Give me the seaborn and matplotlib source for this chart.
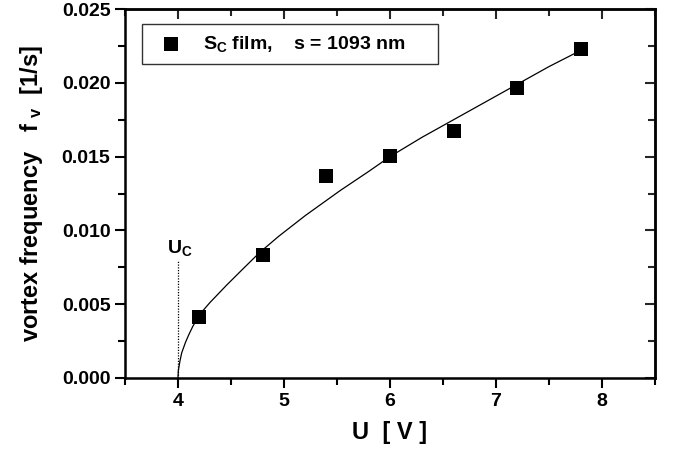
import matplotlib
matplotlib.use("Agg")
import matplotlib.pyplot as plt
import seaborn as sns
import pandas as pd

# measured points
u_meas = [4.2, 4.8, 5.4, 6.0, 6.6, 7.2, 7.8]
f_meas = [0.00415, 0.00835, 0.01371, 0.01504, 0.01676, 0.01963, 0.02227]

# fitted curve
u_fit = [4.0, 4.003, 4.02, 4.035, 4.07, 4.1, 4.14, 4.19, 4.24, 4.3, 4.38, 4.46,
         4.6, 4.77, 4.95, 5.2, 5.53, 5.8, 6.0, 6.3, 6.6, 6.9, 7.2, 7.5, 7.8]
f_fit = [0.0, 0.0005, 0.0012, 0.0017, 0.0024, 0.0029, 0.0035, 0.0041, 0.0046,
         0.0051, 0.0057, 0.0063, 0.0073, 0.0085, 0.0096, 0.0110, 0.0127, 0.0140,
         0.0150, 0.0163, 0.0175, 0.0187, 0.0199, 0.0211, 0.0222]

# critical voltage marker
u_c = [4.0, 4.0]
f_c = [0.0, 0.0079]

x_ticks = [4, 5, 6, 7, 8]
x_minor = [3.5, 4.5, 5.5, 6.5, 7.5, 8.5]
y_ticks = [0.000, 0.005, 0.010, 0.015, 0.020, 0.025]
y_minor = [0.0025, 0.0075, 0.0125, 0.0175, 0.0225]
y_tick_labels = ["0.000", "0.005", "0.010", "0.015", "0.020", "0.025"]

legend_label = r"S$_\mathbf{C}$ film,    s = 1093 nm     "

sns.set_style("ticks")
plt.rcParams["font.family"] = ["Liberation Sans", "DejaVu Sans"]
plt.rcParams["font.weight"] = "bold"
plt.rcParams["text.color"] = "black"
plt.rcParams["axes.labelcolor"] = "black"
plt.rcParams["mathtext.fontset"] = "custom"
plt.rcParams["mathtext.rm"] = "Liberation Sans:bold"
plt.rcParams["mathtext.bf"] = "Liberation Sans:bold"
plt.rcParams["mathtext.it"] = "Liberation Sans:bold"

fig = plt.figure(figsize=(6.73, 4.58), dpi=100)
ax = fig.add_axes([0.1857, 0.1747, 0.7876, 0.8056])

df_fit = pd.DataFrame({"U": u_fit, "f": f_fit})
df_meas = pd.DataFrame({"U": u_meas, "f": f_meas})

sns.lineplot(data=df_fit, x="U", y="f", ax=ax, color="black", linewidth=0.9,
             sort=False, estimator=None)
ax.plot(u_c, f_c, color="black", linestyle=(0, (1, 1.2)), linewidth=0.9)
sns.scatterplot(data=df_meas, x="U", y="f", ax=ax, marker="s", s=90,
                color="black", linewidth=0, label=legend_label, zorder=5)

ax.text(3.9, 0.0085, r"U$_\mathbf{C}$", fontsize=14, fontweight="bold")

ax.set_xlim(3.5, 8.5)
ax.set_ylim(0, 0.025)
ax.set_xticks(x_ticks)
ax.set_yticks(y_ticks)
ax.set_yticklabels(y_tick_labels)
ax.set_xticks(x_minor, minor=True)
ax.set_yticks(y_minor, minor=True)

for s in ax.spines.values():
    s.set_linewidth(1.8)
    s.set_color("black")

ax.tick_params(axis="both", which="both", direction="out", width=1.5,
               labelsize=14, colors="black")
ax.tick_params(axis="both", which="major", length=7)
ax.tick_params(axis="both", which="minor", length=5)
for lab in ax.get_xticklabels() + ax.get_yticklabels():
    lab.set_fontweight("bold")

# inward ticks on top/right
ax2 = ax.secondary_xaxis("top")
ax2.set_xticks(x_ticks)
ax2.set_xticks(x_minor, minor=True)
ax2.tick_params(which="both", direction="in", width=1.5, labelsize=0, labeltop=False)
ax2.tick_params(which="major", length=7)
ax2.tick_params(which="minor", length=5)
ax3 = ax.secondary_yaxis("right")
ax3.set_yticks(y_ticks)
ax3.set_yticks(y_minor, minor=True)
ax3.tick_params(which="both", direction="in", width=1.5, labelsize=0, labelright=False)
ax3.tick_params(which="major", length=7)
ax3.tick_params(which="minor", length=5)
for sa in (ax2, ax3):
    for s in sa.spines.values():
        s.set_linewidth(1.8)

ax.set_xlabel("U  [ V ]", fontsize=17, fontweight="bold", labelpad=8)
ax.set_ylabel(r"vortex frequency   f $_\mathbf{v}$  [1/s]", fontsize=17,
              fontweight="bold", labelpad=12)

leg = ax.legend(loc="upper left", bbox_to_anchor=(0.032, 0.959), borderaxespad=0,
                frameon=True, fancybox=False, edgecolor="black", fontsize=14,
                handlelength=2.0, handletextpad=0.64, borderpad=0.5)
leg.get_frame().set_linewidth(1.0)
for t in leg.get_texts():
    t.set_fontweight("bold")
    t.set_color("black")

fig.savefig("out.png", dpi=100)
